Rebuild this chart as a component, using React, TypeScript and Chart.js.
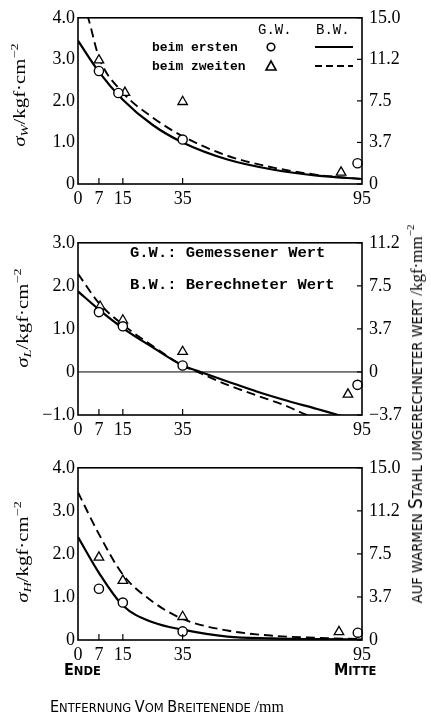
import React, { useEffect, useRef } from 'react';
import { Chart, registerables } from 'chart.js';

Chart.register(...registerables);

// ---------- shared axis data ----------
const X_TICKS = [0, 7, 15, 35, 95];
const X_TICK_LABELS = ['0', '7', '15', '35', '95'];
const X_INNER_TICKS = [7, 15, 35];

// ---------- panel 1 : sigma_W ----------
const W_Y_TICKS = [0, 1, 2, 3, 4];
const W_LEFT_LABELS = ['0', '1.0', '2.0', '3.0', '4.0'];
const W_RIGHT_LABELS = ['0', '3.7', '7.5', '11.2', '15.0'];
const W_FIRST_X = [7, 13.5, 35, 93.5];
const W_FIRST_Y = [2.72, 2.19, 1.07, 0.5];
const W_SECOND_X = [7, 15.7, 35, 88];
const W_SECOND_Y = [2.98, 2.2, 1.98, 0.28];
const W_CALC_FIRST_X = [0, 7, 15, 25, 35, 50, 65, 80, 95];
const W_CALC_FIRST_Y = [3.45, 2.7, 2.03, 1.42, 1.0, 0.59, 0.35, 0.2, 0.12];
const W_CALC_SECOND_X = [0, 3.4, 7, 15, 25, 35, 50, 65, 80, 95];
const W_CALC_SECOND_Y = [4.7, 4.0, 3.05, 2.2, 1.6, 1.15, 0.68, 0.4, 0.22, 0.12];

// ---------- panel 2 : sigma_L ----------
const L_Y_TICKS = [-1, 0, 1, 2, 3];
const L_LEFT_LABELS = ['\u22121.0', '0', '1.0', '2.0', '3.0'];
const L_RIGHT_LABELS = ['\u22123.7', '0', '3.7', '7.5', '11.2'];
const L_FIRST_X = [7, 15, 35, 93.5];
const L_FIRST_Y = [1.39, 1.06, 0.15, -0.3];
const L_SECOND_X = [7.4, 15, 35, 90.3];
const L_SECOND_Y = [1.52, 1.2, 0.47, -0.52];
const L_CALC_FIRST_X = [0, 7, 15, 25, 35, 41, 50, 60, 70, 80, 87, 95];
const L_CALC_FIRST_Y = [1.87, 1.45, 1.02, 0.57, 0.15, 0, -0.22, -0.46, -0.67, -0.86, -1.0, -1.15];
const L_CALC_SECOND_X = [0, 7, 15, 25, 35, 40, 50, 60, 70, 76.5, 85];
const L_CALC_SECOND_Y = [2.28, 1.6, 1.1, 0.6, 0.15, 0, -0.3, -0.55, -0.8, -1.0, -1.2];

// ---------- panel 3 : sigma_H ----------
const H_Y_TICKS = [0, 1, 2, 3, 4];
const H_LEFT_LABELS = ['0', '1.0', '2.0', '3.0', '4.0'];
const H_RIGHT_LABELS = ['0', '3.7', '7.5', '11.2', '15.0'];
const H_FIRST_X = [7, 15, 35, 93.6];
const H_FIRST_Y = [1.19, 0.87, 0.2, 0.17];
const H_SECOND_X = [7, 15, 35, 87.3];
const H_SECOND_Y = [1.92, 1.38, 0.54, 0.19];
const H_CALC_FIRST_X = [0, 7, 15, 25, 35, 50, 65, 80, 95];
const H_CALC_FIRST_Y = [2.39, 1.56, 0.8, 0.41, 0.24, 0.08, 0.04, 0.02, 0.01];
const H_CALC_SECOND_X = [0, 7, 15, 25, 35, 50, 65, 80, 95];
const H_CALC_SECOND_Y = [3.43, 2.46, 1.52, 0.89, 0.49, 0.22, 0.1, 0.05, 0.02];

const FIG_W = 431;
const PLOT_LEFT = 78;
const PLOT_RIGHT = 362;

const SERIF = "'Liberation Serif', 'DejaVu Serif', serif";
const MONO = "'Liberation Mono', 'DejaVu Sans Mono', monospace";
const SANS = "'DejaVu Sans', 'Liberation Sans', sans-serif";

const pts = (xs: number[], ys: number[]) => xs.map((x, i) => ({ x, y: ys[i] }));

const framePlugin = {
  id: 'frame',
  afterDraw(chart: any) {
    const { ctx, chartArea: a, scales } = chart;
    ctx.save();
    ctx.strokeStyle = '#000';
    const zero = chart.options.plugins.frame?.zeroLine;
    if (zero) {
      const py = scales.y.getPixelForValue(0);
      ctx.lineWidth = 1;
      ctx.beginPath();
      ctx.moveTo(a.left, py);
      ctx.lineTo(a.right, py);
      ctx.stroke();
    }
    ctx.lineWidth = 1.2;
    scales.y2.ticks.forEach((t: any) => {
      const py = scales.y2.getPixelForValue(t.value);
      ctx.beginPath();
      ctx.moveTo(a.right - 5, py);
      ctx.lineTo(a.right, py);
      ctx.stroke();
    });
    X_INNER_TICKS.forEach((v) => {
      const px = scales.x.getPixelForValue(v);
      ctx.beginPath();
      ctx.moveTo(px, a.bottom);
      ctx.lineTo(px, a.bottom - 6);
      ctx.stroke();
    });
    ctx.lineWidth = 1.6;
    ctx.strokeRect(a.left, a.top, a.right - a.left, a.bottom - a.top);
    ctx.restore();
  },
};

type PanelProps = {
  top: number;
  height: number;
  padTop: number;
  xAxisH: number;
  yTicks: number[];
  leftLabels: string[];
  rightLabels: string[];
  firstX: number[];
  firstY: number[];
  secondX: number[];
  secondY: number[];
  calcFirstX: number[];
  calcFirstY: number[];
  calcSecondX: number[];
  calcSecondY: number[];
  zeroLine?: boolean;
};

function Panel(p: PanelProps) {
  const ref = useRef<HTMLCanvasElement | null>(null);
  useEffect(() => {
    if (!ref.current) return;
    const font = { family: SERIF, size: 18 };
    const min = p.yTicks[0];
    const max = p.yTicks[p.yTicks.length - 1];
    const chart = new Chart(ref.current, {
      type: 'scatter',
      data: {
        datasets: [
          {
            data: pts(p.firstX, p.firstY),
            pointStyle: 'circle',
            pointRadius: 4.6,
            borderColor: '#000',
            backgroundColor: '#fff',
            borderWidth: 1.4,
            showLine: false,
            clip: false,
          } as any,
          {
            data: pts(p.secondX, p.secondY),
            pointStyle: 'triangle',
            pointRadius: 5.5,
            borderColor: '#000',
            backgroundColor: '#fff',
            borderWidth: 1.3,
            showLine: false,
            clip: false,
          } as any,
          {
            data: pts(p.calcFirstX, p.calcFirstY),
            showLine: true,
            pointRadius: 0,
            borderColor: '#000',
            borderWidth: 2.2,
            cubicInterpolationMode: 'monotone',
            clip: 0,
          } as any,
          {
            data: pts(p.calcSecondX, p.calcSecondY),
            showLine: true,
            pointRadius: 0,
            borderColor: '#000',
            borderWidth: 1.9,
            borderDash: [9, 5],
            cubicInterpolationMode: 'monotone',
            clip: 0,
          } as any,
        ],
      },
      options: {
        responsive: false,
        animation: false,
        events: [],
        layout: { padding: { top: p.padTop, bottom: 0, left: 0, right: 0 } },
        plugins: {
          legend: { display: false },
          tooltip: { enabled: false },
          frame: { zeroLine: !!p.zeroLine },
        } as any,
        scales: {
          x: {
            type: 'linear',
            position: 'bottom',
            min: 0,
            max: 95,
            afterBuildTicks: (s: any) => {
              s.ticks = X_TICKS.map((v) => ({ value: v }));
            },
            afterFit: (s: any) => {
              s.height = p.xAxisH;
            },
            ticks: {
              callback: (_v: any, i: number) => X_TICK_LABELS[i],
              font,
              color: '#000',
              padding: 4,
              maxRotation: 0,
              autoSkip: false,
            },
            grid: { display: false, drawTicks: false },
            border: { display: false },
          },
          y: {
            type: 'linear',
            position: 'left',
            min,
            max,
            afterBuildTicks: (s: any) => {
              s.ticks = p.yTicks.map((v) => ({ value: v }));
            },
            afterFit: (s: any) => {
              s.width = PLOT_LEFT;
            },
            ticks: {
              callback: (_v: any, i: number) => p.leftLabels[i],
              font,
              color: '#000',
              padding: 3,
              autoSkip: false,
            },
            grid: { display: false, drawTicks: false },
            border: { display: false },
          },
          y2: {
            type: 'linear',
            position: 'right',
            min,
            max,
            afterBuildTicks: (s: any) => {
              s.ticks = p.yTicks.map((v) => ({ value: v }));
            },
            afterFit: (s: any) => {
              s.width = FIG_W - PLOT_RIGHT;
            },
            ticks: {
              callback: (_v: any, i: number) => p.rightLabels[i],
              font,
              color: '#000',
              padding: 7,
              autoSkip: false,
            },
            grid: { display: false, drawTicks: false },
            border: { display: false },
          },
        },
      } as any,
      plugins: [framePlugin],
    });
    return () => chart.destroy();
  }, []);
  return (
    <canvas
      ref={ref}
      width={FIG_W}
      height={p.height}
      style={{ position: 'absolute', left: 0, top: p.top, width: FIG_W, height: p.height }}
    />
  );
}

function Txt(props: { x: number; y: number; style?: React.CSSProperties; children: React.ReactNode }) {
  return (
    <div
      style={{
        position: 'absolute',
        left: props.x,
        top: props.y,
        transform: 'translateY(-50%)',
        whiteSpace: 'nowrap',
        lineHeight: 1,
        color: '#000',
        ...props.style,
      }}
    >
      {props.children}
    </div>
  );
}

function VTxt(props: {
  x: number;
  y: number;
  stretch?: number;
  style?: React.CSSProperties;
  children: React.ReactNode;
}) {
  return (
    <div
      style={{
        position: 'absolute',
        left: props.x,
        top: props.y,
        transform: `translate(-50%, -50%) rotate(-90deg) scaleX(${props.stretch ?? 1})`,
        whiteSpace: 'nowrap',
        lineHeight: 1,
        color: '#000',
        ...props.style,
      }}
    >
      {props.children}
    </div>
  );
}

function SigmaTitle({ sub }: { sub: string }) {
  return (
    <span style={{ fontFamily: SERIF, fontSize: 16 }}>
      <i>σ</i>
      <i style={{ fontSize: 11, verticalAlign: -3 }}>{sub}</i>/kgf·cm
      <sup style={{ fontSize: 11, verticalAlign: 7 }}>−2</sup>
    </span>
  );
}

const big: React.CSSProperties = { fontSize: 16 };
const small: React.CSSProperties = { fontSize: 12.8 };
const capsStyle: React.CSSProperties = { fontFamily: SANS, fontStretch: 'condensed' };

export default function App() {
  return (
    <div
      style={{
        position: 'absolute',
        left: 0,
        top: 0,
        width: FIG_W,
        height: 718,
        background: '#fff',
        overflow: 'hidden',
      }}
    >
      <Panel
        top={0}
        height={210}
        padTop={12}
        xAxisH={26}
        yTicks={W_Y_TICKS}
        leftLabels={W_LEFT_LABELS}
        rightLabels={W_RIGHT_LABELS}
        firstX={W_FIRST_X}
        firstY={W_FIRST_Y}
        secondX={W_SECOND_X}
        secondY={W_SECOND_Y}
        calcFirstX={W_CALC_FIRST_X}
        calcFirstY={W_CALC_FIRST_Y}
        calcSecondX={W_CALC_SECOND_X}
        calcSecondY={W_CALC_SECOND_Y}
      />
      <Panel
        top={225}
        height={215}
        padTop={10}
        xAxisH={25}
        yTicks={L_Y_TICKS}
        leftLabels={L_LEFT_LABELS}
        rightLabels={L_RIGHT_LABELS}
        firstX={L_FIRST_X}
        firstY={L_FIRST_Y}
        secondX={L_SECOND_X}
        secondY={L_SECOND_Y}
        calcFirstX={L_CALC_FIRST_X}
        calcFirstY={L_CALC_FIRST_Y}
        calcSecondX={L_CALC_SECOND_X}
        calcSecondY={L_CALC_SECOND_Y}
        zeroLine
      />
      <Panel
        top={450}
        height={215}
        padTop={11}
        xAxisH={25}
        yTicks={H_Y_TICKS}
        leftLabels={H_LEFT_LABELS}
        rightLabels={H_RIGHT_LABELS}
        firstX={H_FIRST_X}
        firstY={H_FIRST_Y}
        secondX={H_SECOND_X}
        secondY={H_SECOND_Y}
        calcFirstX={H_CALC_FIRST_X}
        calcFirstY={H_CALC_FIRST_Y}
        calcSecondX={H_CALC_SECOND_X}
        calcSecondY={H_CALC_SECOND_Y}
      />

      {/* left axis titles */}
      <VTxt x={19} y={95} stretch={1.3}>
        <SigmaTitle sub="W" />
      </VTxt>
      <VTxt x={22} y={318} stretch={1.3}>
        <SigmaTitle sub="L" />
      </VTxt>
      <VTxt x={22} y={552} stretch={1.3}>
        <SigmaTitle sub="H" />
      </VTxt>

      {/* right shared axis title */}
      <VTxt x={415} y={414} style={capsStyle}>
        <span style={{ fontSize: 14.6 }}>AUF WARMEN </span>
        <span style={{ fontSize: 19 }}>S</span>
        <span style={{ fontSize: 14.6 }}>TAHL UMGERECHNETER WERT </span>
        <span style={{ fontFamily: SERIF, fontSize: 17 }}>
          /kgf·mm<sup style={{ fontSize: 11, verticalAlign: 8 }}>−2</sup>
        </span>
      </VTxt>

      {/* panel 1 legend */}
      <Txt x={258} y={30} style={{ fontFamily: MONO, fontSize: 14 }}>G.W.</Txt>
      <Txt x={316} y={30} style={{ fontFamily: MONO, fontSize: 14 }}>B.W.</Txt>
      <Txt x={152} y={47} style={{ fontFamily: MONO, fontSize: 13, fontWeight: 'bold' }}>beim ersten</Txt>
      <Txt x={152} y={66} style={{ fontFamily: MONO, fontSize: 13, fontWeight: 'bold' }}>beim zweiten</Txt>
      <svg
        width={FIG_W}
        height={120}
        style={{ position: 'absolute', left: 0, top: 0, pointerEvents: 'none' }}
      >
        <circle cx={271} cy={47} r={3.8} fill="#fff" stroke="#000" strokeWidth={1.6} />
        <polygon points="271,61 276,70 266,70" fill="#fff" stroke="#000" strokeWidth={1.6} />
        <line x1={315} y1={47} x2={353} y2={47} stroke="#000" strokeWidth={2} />
        <line x1={315} y1={66} x2={353} y2={66} stroke="#000" strokeWidth={1.8} strokeDasharray="7 4" />
      </svg>

      {/* panel 2 legend */}
      <Txt x={130} y={254} style={{ fontFamily: MONO, fontSize: 15.5, fontWeight: 'bold' }}>
        G.W.: Gemessener Wert
      </Txt>
      <Txt x={130} y={286} style={{ fontFamily: MONO, fontSize: 15.5, fontWeight: 'bold' }}>
        B.W.: Berechneter Wert
      </Txt>

      {/* bottom labels */}
      <Txt x={64} y={670} style={{ ...capsStyle, fontWeight: 'bold' }}>
        <span style={big}>E</span>
        <span style={small}>NDE</span>
      </Txt>
      <Txt x={334} y={670} style={{ ...capsStyle, fontWeight: 'bold' }}>
        <span style={big}>M</span>
        <span style={small}>ITTE</span>
      </Txt>
      <Txt x={50} y={707} style={capsStyle}>
        <span style={big}>E</span>
        <span style={small}>NTFERNUNG </span>
        <span style={big}>V</span>
        <span style={small}>OM </span>
        <span style={big}>B</span>
        <span style={small}>REITENENDE </span>
        <span style={{ fontFamily: SERIF, fontSize: 16 }}>/mm</span>
      </Txt>
    </div>
  );
}
